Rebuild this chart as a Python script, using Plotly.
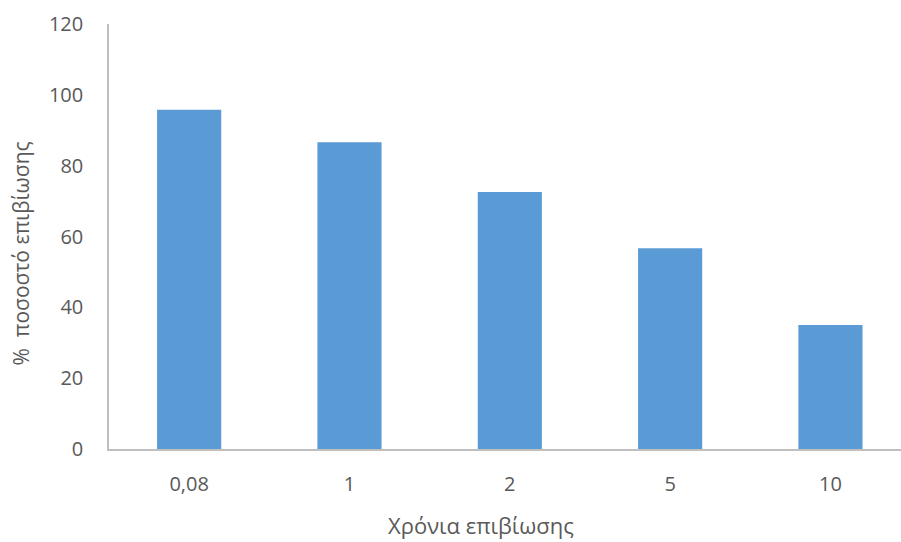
import plotly.graph_objects as go

# Survival percentage by years after diagnosis
categories = ["0,08", "1", "2", "5", "10"]
survival_pct = [95.8, 86.6, 72.6, 56.7, 35.0]
y_ticks = [0, 20, 40, 60, 80, 100, 120]

text_color = "#595959"
font_family = "Open Sans, Segoe UI, sans-serif"

fig = go.Figure(
    go.Bar(
        x=list(range(len(categories))),
        y=survival_pct,
        width=0.4,
        marker=dict(color="#5B9BD5", line=dict(width=0)),
    )
)

fig.update_layout(
    width=901,
    height=542,
    margin=dict(l=108.5, r=0, t=23.5, b=92.5),
    paper_bgcolor="white",
    plot_bgcolor="white",
    showlegend=False,
    font=dict(family=font_family, color=text_color, size=20),
    xaxis=dict(
        tickmode="array",
        tickvals=list(range(len(categories))),
        ticktext=categories,
        range=[-0.5, 4.44],
        showgrid=False,
        zeroline=False,
        showline=True,
        linecolor="#BFBFBF",
        linewidth=1.5,
        ticks="",
        ticklabelstandoff=16,
        tickfont=dict(size=20, color=text_color),
    ),
    yaxis=dict(
        tickmode="array",
        tickvals=y_ticks,
        range=[0, 120],
        showgrid=False,
        zeroline=False,
        showline=True,
        linecolor="#BFBFBF",
        linewidth=1.5,
        ticks="",
        ticklabelstandoff=20,
        tickfont=dict(size=20, color=text_color),
    ),
    annotations=[
        dict(
            text="Χρόνια επιβίωσης",
            xref="paper", yref="paper",
            x=(480.5 - 108.5) / 792.5, y=-(526 - 449.5) / 426,
            xanchor="center", yanchor="middle",
            showarrow=False,
            font=dict(size=22, color=text_color, family=font_family),
        ),
        dict(
            text="%  ποσοστό επιβίωσης",
            xref="paper", yref="paper",
            x=-(108.5 - 20) / 792.5, y=(449.5 - 254) / 426,
            xanchor="center", yanchor="middle",
            textangle=-90,
            showarrow=False,
            font=dict(size=21, color=text_color, family=font_family),
        ),
    ],
)

fig.write_html("out.html")
